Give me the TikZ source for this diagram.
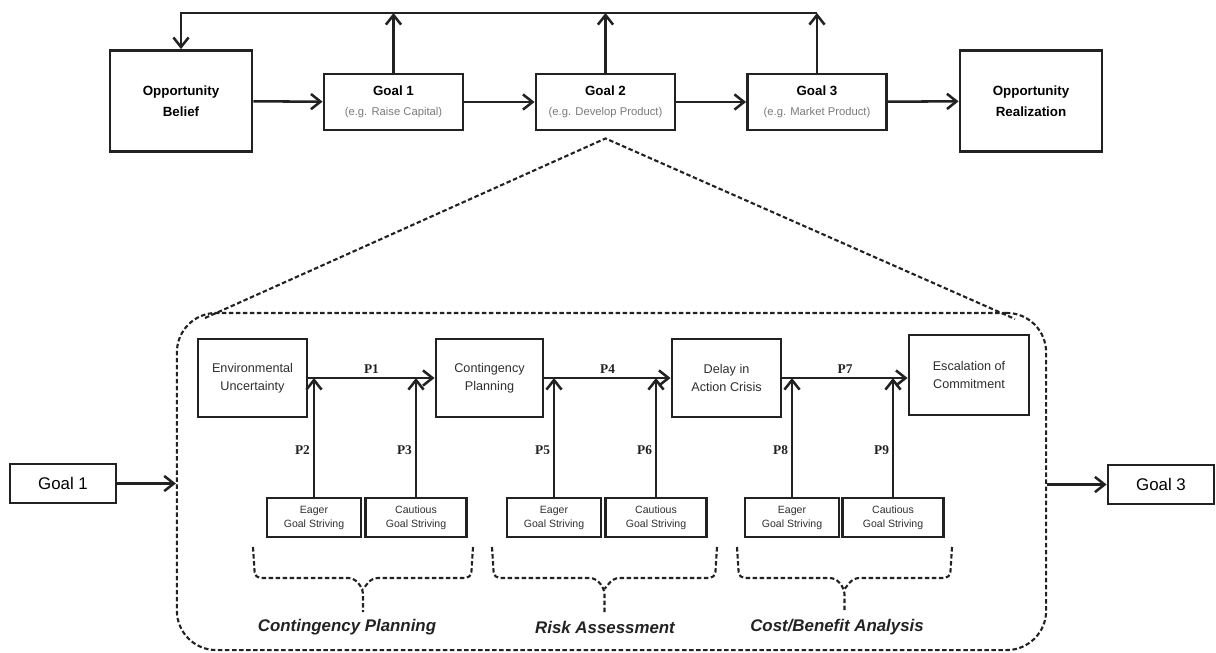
\documentclass[tikz,border=0pt]{standalone}
\usepackage{fontspec}
\setmainfont{Liberation Sans}
\newfontfamily\pfont{Liberation Serif}
\usepackage{xcolor}
\definecolor{ink}{HTML}{222222}
\definecolor{soft}{HTML}{7A7A7A}
\definecolor{mid}{HTML}{2E2E2E}
\usetikzlibrary{calc,arrows.meta,positioning}

\begin{document}
\begin{tikzpicture}[x=0.025cm, y=-0.025cm,
		box/.style={draw=ink, line width=2pt, inner sep=0pt, align=center},
		bigbox/.style={box, minimum width=3.55cm, minimum height=2.525cm, font=\fontsize{9.5}{15}\selectfont\bfseries},
		goalbox/.style={box, minimum width=3.475cm, minimum height=1.4cm, font=\fontsize{9.5}{14}\selectfont},
		stagebox/.style={box, minimum height=1.95cm, text=mid, font=\fontsize{9}{12.5}\selectfont},
		strivebox/.style={box, line width=1.7pt, minimum height=0.975cm, text=mid, font=\fontsize{7.5}{10}\selectfont},
		sidebox/.style={box, minimum width=2.65cm, minimum height=0.975cm, font=\fontsize{12}{14}\selectfont},
		arr/.style={draw=ink, line width=1.8pt, -{Straight Barb[length=2.4mm,width=3.8mm]}},
		dashline/.style={draw=ink, line width=1.5pt, dash pattern=on 3.2pt off 1.8pt},
		plab/.style={font=\pfont\bfseries\fontsize{9.5}{11}\selectfont, text=ink, inner sep=2pt},
		grouplab/.style={font=\bfseries\itshape\fontsize{12}{14}\selectfont, text=ink}
	]
	\useasboundingbox (0,0) rectangle (1216,652);

	% Top row: belief -> goals -> realization
	\node[bigbox] (opb) at (181,101) {Opportunity\\Belief};
	\node[goalbox] (g1) at (393.5,102) {\textbf{Goal 1}\\{\fontsize{8}{10}\selectfont\color{soft}(e.g. Raise Capital)}};
	\node[goalbox] (g2) at (605.5,102) {\textbf{Goal 2}\\{\fontsize{8}{10}\selectfont\color{soft}(e.g. Develop Product)}};
	\node[goalbox] (g3) at (817,102) {\textbf{Goal 3}\\{\fontsize{8}{10}\selectfont\color{soft}(e.g. Market Product)}};
	\node[bigbox] (opr) at (1031,101) {Opportunity\\Realization};
	\draw[arr] (opb) -- (g1);
	\draw[arr] (g1) -- (g2);
	\draw[arr] (g2) -- (g3);
	\draw[arr] (g3) -- (opr);

	% Feedback loop over the goals
	\coordinate (fbl) at (opb.north |- 0,13);
	\coordinate (fbr) at (g3.north |- 0,13);
	\draw[arr] (fbr) -- (fbl) -- (opb.north);
	\foreach \g in {g1,g2,g3}{
		\draw[arr] (\g.north) -- (\g.north |- fbl);
	}

	% Zoomed view of Goal 2
	\node[dashline, rounded corners=28pt, minimum width=21.725cm, minimum height=8.425cm, inner sep=0pt] (detail) at (611.5,481.5) {};
	\coordinate (apex) at ([yshift=-5pt]g2.south);
	\coordinate (zl) at (205,318);
	\coordinate (zr) at (1015,319);
	\draw[dashline] (zl) -- (apex) -- (zr);

	% Stages
	\node[stagebox, minimum width=2.725cm] (env) at (252.5,378) {Environmental\\Uncertainty};
	\node[stagebox, minimum width=2.675cm] (cp) at (489.5,378) {Contingency\\Planning};
	\node[stagebox, minimum width=2.725cm] (dac) at (726.5,378) {Delay in\\Action Crisis};
	\node[stagebox, minimum width=3cm, minimum height=2cm] (esc) at (969,375) {Escalation of\\Commitment};
	\draw[arr] (env.east) -- (cp.west) node[midway, above, plab] {P1};
	\draw[arr] (cp.east) -- (dac.west) node[midway, above, plab] {P4};
	\draw[arr] (dac.east) -- (dac.east -| esc.west) node[midway, above, plab] {P7};

	% Goal striving modes
	\foreach \n/\x/\w/\t in {e1/314/2.35cm/Eager, c1/416/2.525cm/Cautious, e2/554/2.35cm/Eager, c2/656/2.525cm/Cautious, e3/792/2.35cm/Eager, c3/893/2.525cm/Cautious}{
		\node[strivebox, minimum width=\w] (\n) at (\x,517.5) {\t\\Goal Striving};
	}
	\foreach \s/\t/\p in {e1/env/P2, c1/env/P3, e2/cp/P5, c2/cp/P6, e3/dac/P8, c3/dac/P9}{
		\draw[arr] (\s.north) -- (\s.north |- \t.east) node[pos=0.39, left, plab] {\p};
	}

	% Dashed braces
	\foreach \l/\r in {253/473, 492/717, 737/952}{
		\pgfmathsetmacro{\m}{(\l+\r)/2}
		\draw[dashline, rounded corners=4pt] (\l,547) -- (\l+2,578) -- (\m-9,578) -- (\m,589) -- (\m,612);
		\draw[dashline, rounded corners=4pt] (\r,547) -- (\r-2,578) -- (\m+9,578) -- (\m,589);
	}
	\node[grouplab] (lbcp) at (347,627) {Contingency Planning};
	\node[grouplab] (lbra) at (605,627) {Risk Assessment};
	\node[grouplab] (lbcb) at (837,627) {Cost/Benefit Analysis};

	% Neighbouring goals
	\node[sidebox] (lg1) at (63,483.5) {Goal 1};
	\node[sidebox] (rg3) at (1161,484.5) {Goal 3};
	\draw[arr] (lg1.east) -- (lg1.east -| detail.west);
	\draw[arr] (rg3.west -| detail.east) -- (rg3.west);
\end{tikzpicture}
\end{document}
